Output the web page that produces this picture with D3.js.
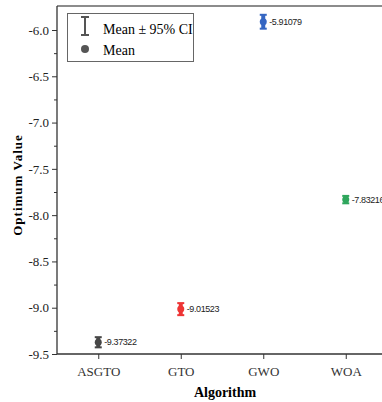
<!DOCTYPE html>
<html>
<head>
<meta charset="utf-8">
<script src="https://cdn.jsdelivr.net/npm/d3@7"></script>
<style>
  body { margin: 0; background: #fff; }
  svg { display: block; }
</style>
</head>
<body>
<div id="chart"></div>
<script>
// data
const algorithms = ["ASGTO", "GTO", "GWO", "WOA"];
const means = [-9.37322, -9.01523, -5.91079, -7.83216];
const ciHalf = [0.055, 0.065, 0.075, 0.04];
const colors = ["#474747", "#ee3535", "#3566c2", "#2ea65c"];
const yTicks = [-9.5, -9.0, -8.5, -8.0, -7.5, -7.0, -6.5, -6.0];

const width = 382, height = 402;
const left = 57, axisY = 354;

const svg = d3.select("#chart").append("svg")
  .attr("width", width).attr("height", height);

const x = d3.scalePoint().domain(algorithms).range([left, left + 330]).padding(0.5);
const y = d3.scaleLinear().domain([-9.5, -6.0]).range([axisY, 30]);
const topY = y(-5.74);

// top frame line
svg.append("line")
  .attr("x1", left).attr("x2", width).attr("y1", topY).attr("y2", topY)
  .attr("stroke", "#666").attr("stroke-width", 1.5);

// y axis with minor ticks
const minor = d3.range(-9.25, -5.8, 0.5);
svg.append("g")
  .attr("transform", `translate(${left},0)`)
  .call(d3.axisLeft(y).tickValues(minor).tickSize(3).tickFormat(""))
  .call(g => g.select(".domain").remove())
  .selectAll("line").attr("stroke", "#333");

const yAxis = svg.append("g")
  .attr("transform", `translate(${left},0)`)
  .attr("font-family", "Liberation Serif, serif")
  .call(d3.axisLeft(y).tickValues(yTicks).tickSize(5).tickSizeOuter(0));
yAxis.attr("font-family", "Liberation Serif, serif");
yAxis.select(".domain").attr("d", `M0,${topY}V${axisY}`).attr("stroke", "#333").attr("stroke-width", 1.3);
yAxis.selectAll("line").attr("stroke", "#333");
yAxis.selectAll("text")
  .style("font-family", "Liberation Serif, serif").attr("font-size", 13)
  .attr("fill", "#222").text(d => d.toFixed(1));

// x axis
const xAxis = svg.append("g")
  .attr("transform", `translate(0,${axisY})`)
  .call(d3.axisBottom(x).tickSize(5).tickSizeOuter(0).tickPadding(8));
xAxis.select(".domain").attr("d", `M${left},0H${width}`).attr("stroke", "#333").attr("stroke-width", 1.3);
xAxis.selectAll("line").attr("stroke", "#333");
xAxis.selectAll("text")
  .style("font-family", "Liberation Serif, serif").attr("font-size", 13).attr("fill", "#333");

// axis titles
svg.append("text")
  .attr("transform", `translate(22,185) rotate(-90)`)
  .attr("text-anchor", "middle")
  .attr("font-family", "Liberation Serif, serif").attr("font-weight", "bold")
  .attr("font-size", 13).attr("letter-spacing", 1)
  .text("Optimum Value");
svg.append("text")
  .attr("x", 225).attr("y", 397)
  .attr("text-anchor", "middle")
  .attr("font-family", "Liberation Serif, serif").attr("font-weight", "bold")
  .attr("font-size", 14)
  .text("Algorithm");

// points with CI bars
const pts = svg.append("g").selectAll("g").data(algorithms).join("g");
pts.append("line")
  .attr("x1", d => x(d)).attr("x2", d => x(d))
  .attr("y1", (d, i) => y(means[i] + ciHalf[i])).attr("y2", (d, i) => y(means[i] - ciHalf[i]))
  .attr("stroke", (d, i) => colors[i]).attr("stroke-width", 4);
[1, -1].forEach(s => {
  pts.append("line")
    .attr("x1", d => x(d) - 3.5).attr("x2", d => x(d) + 3.5)
    .attr("y1", (d, i) => y(means[i] + s * ciHalf[i])).attr("y2", (d, i) => y(means[i] + s * ciHalf[i]))
    .attr("stroke", (d, i) => colors[i]).attr("stroke-width", 2);
});
pts.append("circle")
  .attr("cx", d => x(d)).attr("cy", (d, i) => y(means[i])).attr("r", 3.5)
  .attr("fill", (d, i) => colors[i]);
pts.append("text")
  .attr("x", d => x(d) + 6).attr("y", (d, i) => y(means[i]) + 3)
  .attr("font-family", "Liberation Sans, sans-serif")
  .attr("font-size", 9).attr("letter-spacing", -0.4).attr("fill", "#222")
  .text((d, i) => means[i]);

// legend
const lg = svg.append("g");
lg.append("rect").attr("x", 67.5).attr("y", 13.5).attr("width", 126).attr("height", 48)
  .attr("fill", "#fff").attr("stroke", "#666");
lg.append("path").attr("d", "M81,17H89M85,17V35M81,35H89")
  .attr("stroke", "#555").attr("stroke-width", 2).attr("fill", "none");
lg.append("circle").attr("cx", 85).attr("cy", 49).attr("r", 4).attr("fill", "#555");
lg.append("text").attr("x", 103).attr("y", 34)
  .attr("font-family", "Liberation Serif, serif").attr("font-size", 14).text("Mean ± 95% CI");
lg.append("text").attr("x", 103).attr("y", 55)
  .attr("font-family", "Liberation Serif, serif").attr("font-size", 14).text("Mean");
</script>
</body>
</html>
